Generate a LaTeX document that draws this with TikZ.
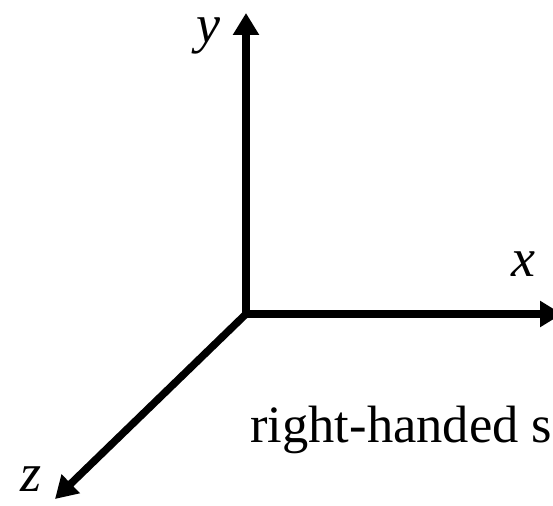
\documentclass[tikz,border=0pt]{standalone}
\usepackage{fontspec}
\setmainfont{Liberation Serif}
\usetikzlibrary{arrows.meta}
\tikzset{every picture/.style={line width=0.75pt}}
\tikzset{
  axis/.style={line width=7.5pt, -{Triangle[length=22pt,width=25pt]}},
  axislabel/.style={font=\fontsize{54}{60}\selectfont\itshape, inner sep=0pt},
}

\begin{document}
\begin{tikzpicture}[x=1pt, y=-1pt]
    \clip (0, 0) rectangle (553, 505);

    % 原点与轴端点
    \coordinate (O) at (246, 314);
    \coordinate (xend) at (562, 314);
    \coordinate (yend) at (246, 13);
    \coordinate (zend) at (55, 499);

    % 坐标轴
    \draw[axis] (O) -- (xend);
    \draw[axis] (O) -- (yend);
    \draw[axis] (O) -- (zend);

    % 标注
    \node[axislabel] (xlab) at (523, 264) {x};
    \node[axislabel] (ylab) at (208, 36) {y};
    \node[axislabel] (zlab) at (31, 479) {z};

    \node[font=\fontsize{52.5}{60}\selectfont, inner sep=0pt, anchor=base west] (note) at (250, 442) {right-handed s};
\end{tikzpicture}
\end{document}
